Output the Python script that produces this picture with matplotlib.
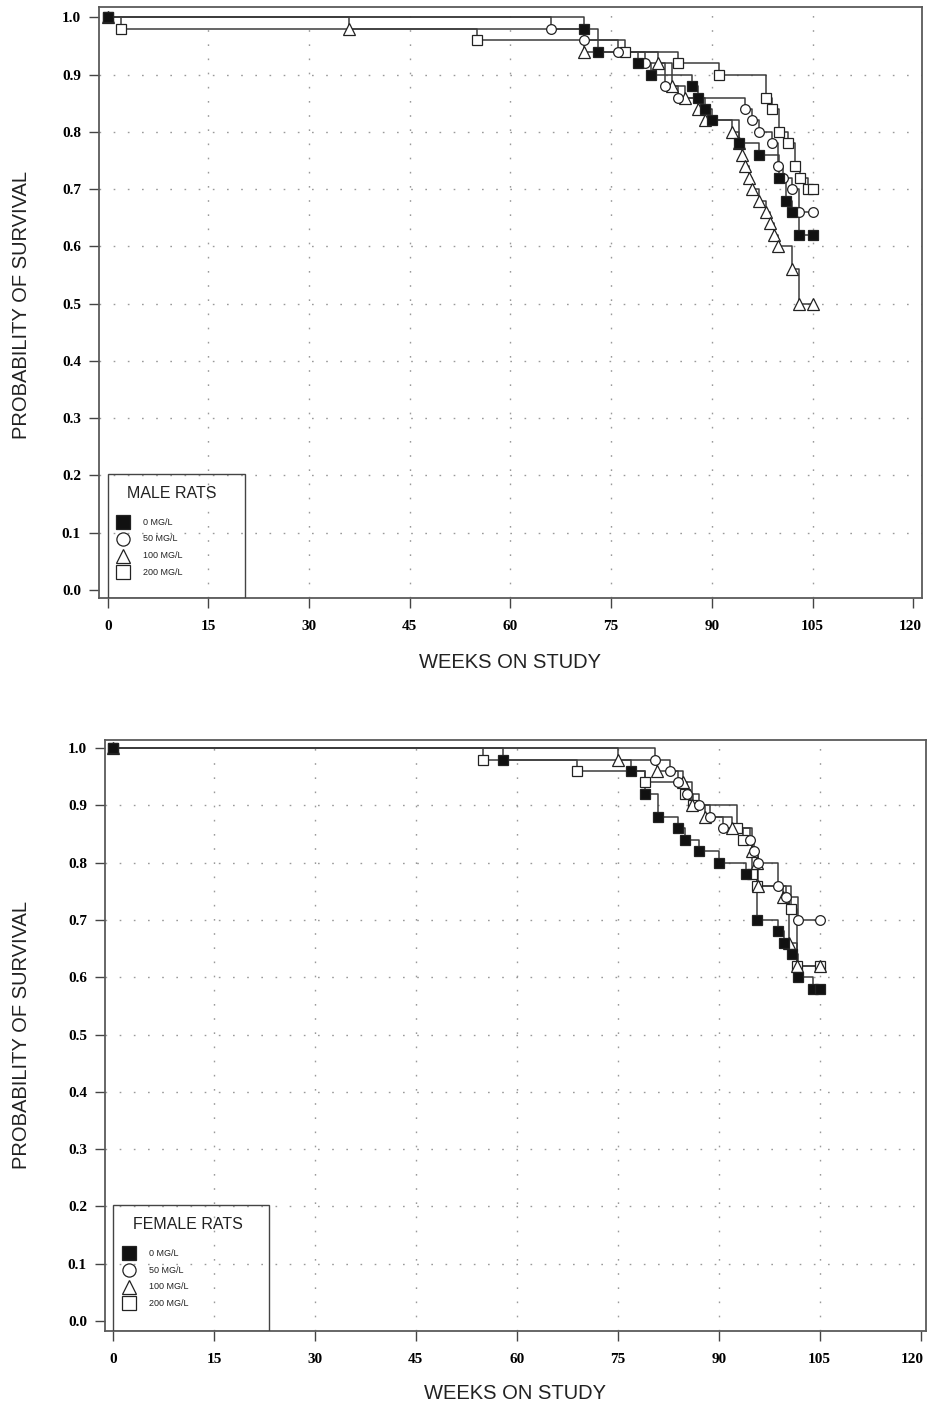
import matplotlib
matplotlib.use('Agg')
import matplotlib.pyplot as plt
from matplotlib.patches import Rectangle
from matplotlib.transforms import ScaledTranslation

groups = ['0 MG/L', '50 MG/L', '100 MG/L', '200 MG/L']
end_week = 105
x_ticks = [0, 15, 30, 45, 60, 75, 90, 105, 120]
y_ticks = [0.0, 0.1, 0.2, 0.3, 0.4, 0.5, 0.6, 0.7, 0.8, 0.9, 1.0]

# male rats: week of each step and survival after it
male_t_0 = [0, 71, 73, 79, 81, 87, 88, 89, 90, 94, 97, 100, 101, 102, 103]
male_s_0 = [1.0, 0.98, 0.94, 0.92, 0.90, 0.88, 0.86, 0.84, 0.82, 0.78, 0.76, 0.72, 0.68, 0.66, 0.62]
male_t_50 = [0, 66, 71, 76, 80, 83, 85, 95, 96, 97, 99, 99.8, 100.6, 102, 103]
male_s_50 = [1.0, 0.98, 0.96, 0.94, 0.92, 0.88, 0.86, 0.84, 0.82, 0.80, 0.78, 0.74, 0.72, 0.70, 0.66]
male_t_100 = [0, 36, 71, 82, 84, 86, 88, 89, 93, 94, 94.5, 95, 95.5, 96, 97, 98, 98.6, 99.2, 99.8, 102, 103]
male_s_100 = [1.0, 0.98, 0.94, 0.92, 0.88, 0.86, 0.84, 0.82, 0.80, 0.78, 0.76, 0.74, 0.72, 0.70, 0.68, 0.66,
              0.64, 0.62, 0.60, 0.56, 0.50]
male_t_200 = [0, 2, 55, 77, 85, 91, 98, 99, 100, 101.4, 102.4, 103.2, 104.3]
male_s_200 = [1.0, 0.98, 0.96, 0.94, 0.92, 0.90, 0.86, 0.84, 0.80, 0.78, 0.74, 0.72, 0.70]

# female rats
female_t_0 = [0, 58, 77, 79, 81, 84, 85, 87, 90, 94, 95.7, 98.8, 99.7, 100.9, 101.8, 104]
female_s_0 = [1.0, 0.98, 0.96, 0.92, 0.88, 0.86, 0.84, 0.82, 0.80, 0.78, 0.70, 0.68, 0.66, 0.64, 0.60, 0.58]
female_t_50 = [0, 80.5, 82.8, 84, 85.3, 87, 88.7, 90.6, 94.6, 95.3, 95.8, 98.8, 100, 101.8]
female_s_50 = [1.0, 0.98, 0.96, 0.94, 0.92, 0.90, 0.88, 0.86, 0.84, 0.82, 0.80, 0.76, 0.74, 0.70]
female_t_100 = [0, 75, 80.8, 84.7, 86, 88, 92, 95, 95.7, 95.8, 99.6, 100.5, 101.6]
female_s_100 = [1.0, 0.98, 0.96, 0.94, 0.90, 0.88, 0.86, 0.82, 0.80, 0.76, 0.74, 0.66, 0.62]
female_t_200 = [0, 55, 69, 79, 85, 86.2, 92.7, 93.6, 95, 95.7, 100.8, 101.6]
female_s_200 = [1.0, 0.98, 0.96, 0.94, 0.92, 0.90, 0.86, 0.84, 0.78, 0.76, 0.72, 0.62]

line_c = '#3c3c3c'
# marker, face colour, size for each dose group
styles = [('s', '#111111', 7.0), ('o', 'white', 7.0), ('^', 'white', 8.0), ('s', 'white', 7.5)]

tick_font = {'family': 'Liberation Serif', 'weight': 'bold', 'size': 11}
label_font = {'family': 'Liberation Sans', 'size': 14.5}


def draw_panel(ax, series, title, box_right, xlim, ylim):
    # draw 200 first so the filled squares end on top
    for i in [3, 2, 1, 0]:
        t, s = series[i]
        tt = list(t) + [end_week]
        ss = list(s) + [s[-1]]
        m, fc, ms = styles[i]
        ax.step(tt, ss, where='post', color=line_c, lw=1.1, zorder=2 + i * 0.01)
        ax.plot(tt, ss, ls='none', marker=m, ms=ms, mfc=fc, mec='#222222', mew=0.9,
                zorder=3 + (3 - i) * 0.1)

    ax.set_xlim(*xlim)
    ax.set_ylim(*ylim)
    ax.set_xticks(x_ticks)
    ax.set_yticks(y_ticks)
    ax.set_xticklabels([str(v) for v in x_ticks], fontdict=tick_font)
    ax.set_yticklabels(['%.1f' % v for v in y_ticks], fontdict=tick_font)
    ax.tick_params(direction='out', length=7, width=1.0, color='#444444', pad=9)
    ax.tick_params(axis='y', pad=6)

    # dotted reference grid
    for gx in x_ticks[1:-1]:
        ax.axvline(gx, color='#9a9a9a', lw=1.0, ls=(0, (1.2, 9)), zorder=1)
    for gy in y_ticks[1:-1]:
        ax.axhline(gy, color='#9a9a9a', lw=1.0, ls=(0, (1.2, 9)), zorder=1)

    for sp in ax.spines.values():
        sp.set_color('#5a5a5a')
        sp.set_linewidth(1.3)

    # legend box sitting on the bottom frame
    ax.add_patch(Rectangle((0, ylim[0]), box_right, 0.203 - ylim[0], fill=False,
                           ec='#444444', lw=1.0, zorder=4))
    ax.text(2.9, 0.168, title, fontsize=11.5, family='Liberation Sans',
            va='center', ha='left', color='#222222', zorder=5)
    rows = [0.118, 0.089, 0.060, 0.031]
    for i, name in enumerate(groups):
        m, fc, ms = styles[i]
        ax.plot([2.3], [rows[i]], marker=m, ms=ms + 2.5, mfc=fc, mec='#222222', mew=0.9,
                ls='none', zorder=5)
        ax.text(5.3, rows[i], name, fontsize=6.5, family='Liberation Sans',
                va='center', ha='left', color='#222222', zorder=5)


fig = plt.figure(figsize=(9.28, 14.07), dpi=100)

ax1 = fig.add_axes([0.1067, 0.575, 0.8868, 0.4202])
draw_panel(ax1,
           [(male_t_0, male_s_0), (male_t_50, male_s_50), (male_t_100, male_s_100), (male_t_200, male_s_200)],
           'MALE RATS', 20.4, (-1.3, 121.3), (-0.014, 1.0185))

ax2 = fig.add_axes([0.1131, 0.054, 0.8847, 0.42])
draw_panel(ax2,
           [(female_t_0, female_s_0), (female_t_50, female_s_50), (female_t_100, female_s_100),
            (female_t_200, female_s_200)],
           'FEMALE RATS', 23.2, (-1.2, 120.8), (-0.0175, 1.014))

# keep the last tick label of the lower panel inside the page
for ax, dx in [(ax1, -2), (ax2, -6)]:
    lab = ax.get_xticklabels()[-1]
    lab.set_transform(lab.get_transform() + ScaledTranslation(dx / 72, 0, fig.dpi_scale_trans))

fig.text(0.0237, 0.783, 'PROBABILITY OF SURVIVAL', rotation=90, ha='center', va='center',
         fontdict=label_font, color='#222222')
fig.text(0.0237, 0.2644, 'PROBABILITY OF SURVIVAL', rotation=90, ha='center', va='center',
         fontdict=label_font, color='#222222')
fig.text(0.55, 0.529, 'WEEKS ON STUDY', ha='center', va='center', fontdict=label_font, color='#222222')
fig.text(0.555, 0.0099, 'WEEKS ON STUDY', ha='center', va='center', fontdict=label_font, color='#222222')

fig.savefig('out.png', dpi=100)
